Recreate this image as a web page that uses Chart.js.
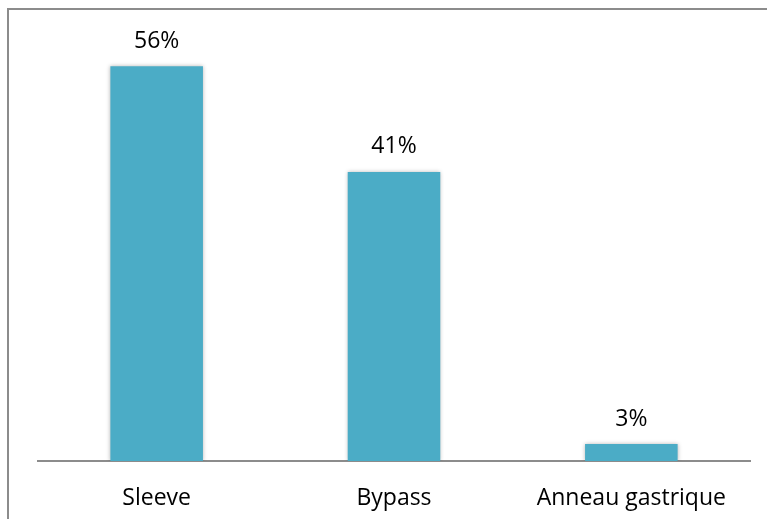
<!DOCTYPE html>
<html>
<head>
<meta charset="utf-8">
<script src="https://cdn.jsdelivr.net/npm/chart.js@4/dist/chart.umd.min.js"></script>
<style>
  html, body { margin: 0; padding: 0; background: #fff; overflow: hidden; }
  #wrap { position: relative; width: 767px; height: 519px; }
  #frame { position: absolute; left: 7px; top: 8px; width: 800px; height: 600px;
           border-left: 2px solid #8c8c8c; border-top: 2px solid #8c8c8c; box-sizing: border-box; }
  canvas { position: absolute; left: 0; top: 0; }
</style>
</head>
<body>
<div id="wrap">
  <div id="frame"></div>
  <canvas id="c" width="767" height="519"></canvas>
</div>
<script>
const categories = ["Sleeve", "Bypass", "Anneau gastrique"];
const values = [56, 41, 2.4];
const valueLabels = ["56%", "41%", "3%"];

const FONT = "'Open Sans', 'Liberation Sans', sans-serif";

const shadowPlugin = {
  id: 'barShadow',
  beforeDatasetDraw(chart) {
    const ctx = chart.ctx;
    ctx.save();
    ctx.shadowColor = 'rgba(0,0,0,0.28)';
    ctx.shadowBlur = 4;
    ctx.shadowOffsetX = 0;
    ctx.shadowOffsetY = 0;
  },
  afterDatasetDraw(chart) {
    chart.ctx.restore();
  }
};

const labelPlugin = {
  id: 'valueLabels',
  afterDatasetsDraw(chart) {
    const ctx = chart.ctx;
    const meta = chart.getDatasetMeta(0);
    ctx.save();
    ctx.font = "23px " + FONT;
    ctx.fillStyle = '#000';
    ctx.textAlign = 'center';
    ctx.textBaseline = 'middle';
    meta.data.forEach((bar, i) => {
      ctx.fillText(valueLabels[i], bar.x, bar.y - 25);
    });
    ctx.restore();
  }
};

new Chart(document.getElementById('c'), {
  type: 'bar',
  data: {
    labels: categories,
    datasets: [{
      data: values,
      backgroundColor: '#4BACC6',
      borderWidth: 0,
      barPercentage: 0.39,
      categoryPercentage: 1.0
    }]
  },
  options: {
    responsive: false,
    animation: false,
    devicePixelRatio: 1,
    layout: { padding: { left: 38, right: 17, top: 38, bottom: 0 } },
    plugins: { legend: { display: false }, tooltip: { enabled: false } },
    scales: {
      x: {
        grid: { display: false, drawTicks: false },
        border: { display: true, color: '#8c8c8c', width: 2 },
        ticks: { color: '#000', font: { size: 23, family: FONT }, padding: 24, maxRotation: 0, autoSkip: false },
        afterFit(scale) { scale.height = 58; }
      },
      y: {
        display: false,
        min: 0,
        max: 60
      }
    }
  },
  plugins: [shadowPlugin, labelPlugin]
});
</script>
</body>
</html>
